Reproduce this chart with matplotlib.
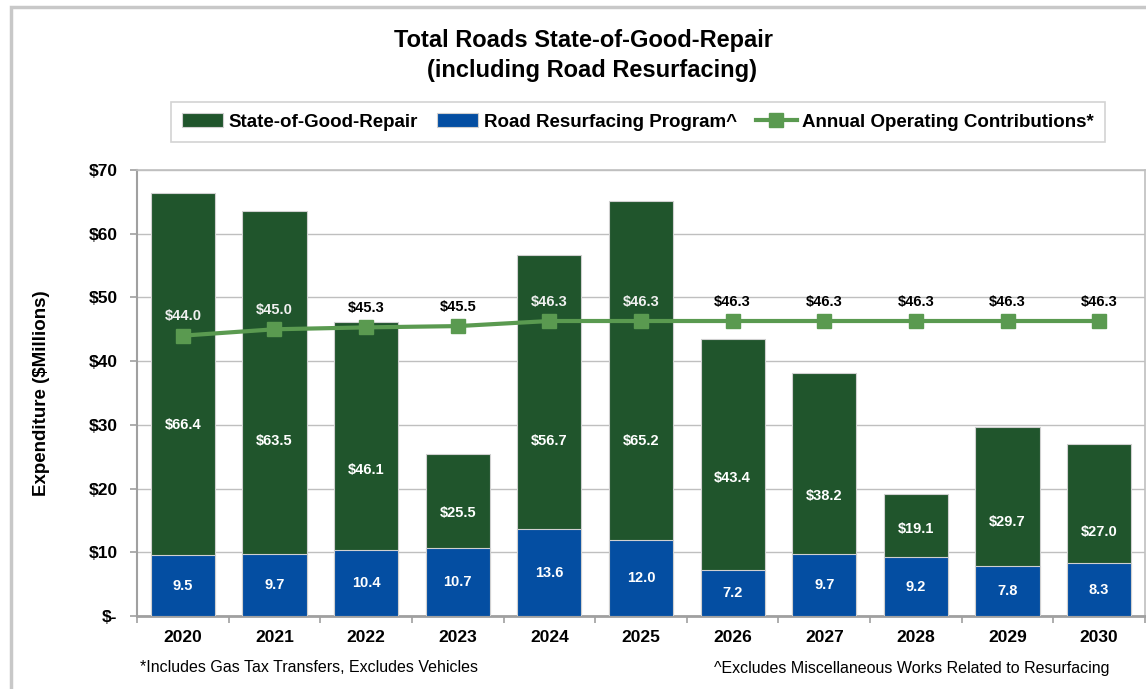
import numpy as np
import matplotlib.pyplot as plt
from matplotlib.patches import Rectangle

plt.rcParams['font.family'] = ['Liberation Sans', 'DejaVu Sans']

years = ['2020', '2021', '2022', '2023', '2024', '2025', '2026', '2027', '2028', '2029', '2030']
sgr_total = [66.4, 63.5, 46.1, 25.5, 56.7, 65.2, 43.4, 38.2, 19.1, 29.7, 27.0]
resurfacing = [9.5, 9.7, 10.4, 10.7, 13.6, 12.0, 7.2, 9.7, 9.2, 7.8, 8.3]
operating = [44.0, 45.0, 45.3, 45.5, 46.3, 46.3, 46.3, 46.3, 46.3, 46.3, 46.3]

# where the SGR labels sit (y, in axis units)
sgr_label_y = [30.0, 27.5, 22.9, 16.2, 27.5, 27.5, 21.7, 18.8, 13.7, 14.8, 13.2]

green = '#20552c'
blue = '#044ea2'
line_green = '#5a9a50'
grey = '#bfbfbf'

fig = plt.figure(figsize=(11.46, 6.89), dpi=100)
ax = fig.add_axes([137 / 1146, 1 - 616 / 689, 1008 / 1146, 446 / 689])

x = np.arange(len(years))
w = 0.7
b1 = ax.bar(x, sgr_total, w, color=green, edgecolor='#d0d0d0', linewidth=0.8,
            label='State-of-Good-Repair', zorder=2)
b2 = ax.bar(x, resurfacing, w, color=blue, edgecolor='#d0d0d0', linewidth=0.8,
            label='Road Resurfacing Program^', zorder=3)
l1, = ax.plot(x, operating, color=line_green, lw=3, marker='s', markersize=10,
              label='Annual Operating Contributions*', zorder=4)

for i in range(len(years)):
    ax.text(x[i], sgr_label_y[i], f'${sgr_total[i]:.1f}', ha='center', va='center',
            color='white', fontsize=10.5, fontweight='bold', zorder=5)
    ax.text(x[i], resurfacing[i] / 2, f'{resurfacing[i]:.1f}', ha='center', va='center',
            color='white', fontsize=10.5, fontweight='bold', zorder=5)
    inside = sgr_total[i] > operating[i] + 4
    ax.annotate(f'${operating[i]:.1f}', (x[i], operating[i]), xytext=(0, 14),
                textcoords='offset points', ha='center', va='center',
                color='#f0f0f0' if inside else 'black', fontsize=10.5,
                fontweight='bold', zorder=5)

ax.set_xlim(-0.5, len(years) - 0.5)
ax.set_ylim(0, 70)
ax.set_yticks(range(0, 71, 10))
ax.set_yticklabels(['$-'] + [f'${v}' for v in range(10, 71, 10)],
                   fontsize=12.5, fontweight='bold')
ax.set_xticks(x)
ax.set_xticklabels(years, fontsize=12.5, fontweight='bold')
ax.set_xticks(np.arange(-0.5, len(years)), minor=True)
ax.tick_params(axis='x', which='major', length=0, pad=10)
ax.tick_params(axis='x', which='minor', length=5, color='#a0a0a0', width=1.2)
ax.tick_params(axis='y', length=5, color='#a0a0a0', width=1.2, pad=9)
ax.grid(axis='y', color=grey, lw=1, zorder=0)
ax.set_axisbelow(True)
for s in ax.spines.values():
    s.set_color(grey)
    s.set_linewidth(1.2)
ax.spines['bottom'].set_color('#a0a0a0')
ax.spines['bottom'].set_linewidth(2)
ax.spines['left'].set_color('#a0a0a0')
ax.spines['left'].set_linewidth(1.5)
ax.set_ylabel('Expenditure ($Millions)', fontsize=13.5, fontweight='bold', labelpad=28)

fig.text(584 / 1146, 1 - 40 / 689, 'Total Roads State-of-Good-Repair',
         ha='center', va='center', fontsize=17, fontweight='bold')
fig.text(592 / 1146, 1 - 70 / 689, '(including Road Resurfacing)',
         ha='center', va='center', fontsize=17, fontweight='bold')

leg = fig.legend(handles=[b1, b2, l1], loc='center',
                 bbox_to_anchor=(638 / 1146, 1 - 122 / 689), ncol=3,
                 prop={'weight': 'bold', 'size': 13.5}, frameon=True,
                 fancybox=False, edgecolor='#c8c8c8', handlelength=2.2,
                 columnspacing=1.0, handletextpad=0.3, borderpad=0.6)
leg.get_frame().set_linewidth(1.2)

fig.text(140 / 1146, 1 - 668 / 689, '*Includes Gas Tax Transfers, Excludes Vehicles',
         ha='left', va='center', fontsize=11.5)
fig.text(1110 / 1146, 1 - 668 / 689, '^Excludes Miscellaneous Works Related to Resurfacing',
         ha='right', va='center', fontsize=11.5)

fig.patches.append(Rectangle((11 / 1146, -0.1), 1.2, 1 - 7 / 689 + 0.1,
                             transform=fig.transFigure, fill=False,
                             edgecolor='#c8c8c8', lw=2.5))

fig.savefig('out.png', dpi=100)
